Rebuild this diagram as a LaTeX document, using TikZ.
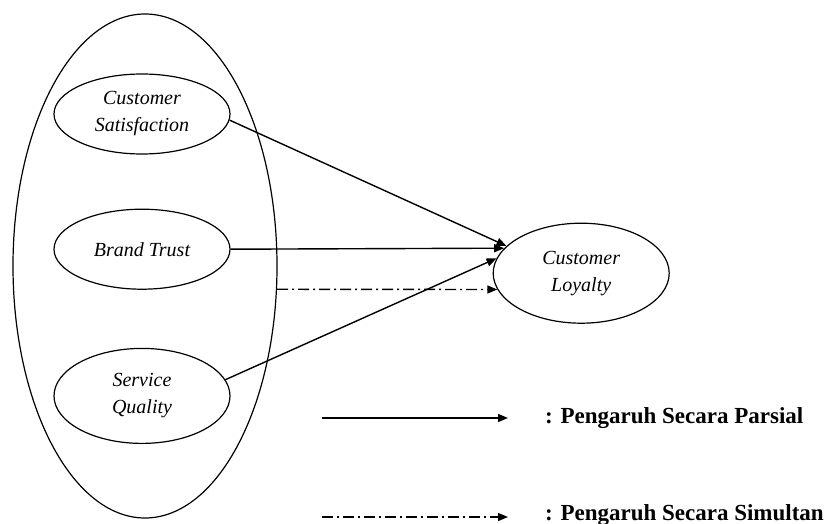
\documentclass[tikz,border=0pt]{standalone}
\usepackage{fontspec}
\setmainfont{Liberation Serif}
\usetikzlibrary{shapes.geometric, arrows.meta, positioning}
\tikzset{
    varbox/.style={
        ellipse,
        draw=black,
        line width=1.2pt,
        minimum width=176pt,
        minimum height=80pt,
        inner sep=0pt,
        align=center,
        font=\fontsize{20}{27}\selectfont\itshape
    },
    groupbox/.style={
        ellipse,
        draw=black,
        line width=1.2pt,
        minimum width=264pt,
        minimum height=504pt
    },
    partial/.style={
        draw=black,
        line width=1.4pt,
        -{Triangle[length=10pt,width=8pt]}
    },
    simultan/.style={
        draw=black,
        line width=1.4pt,
        dash pattern=on 11pt off 4pt on 2pt off 4pt,
        -{Triangle[length=10pt,width=8pt]}
    },
    legendtext/.style={
        anchor=west,
        inner sep=0pt,
        font=\fontsize{23}{26}\selectfont\bfseries
    }
}
\begin{document}
\begin{tikzpicture}[x=1pt, y=-1pt]
\useasboundingbox (0,0) rectangle (824,524);

% Independent variables
\node[groupbox] (outer) at (145,266) {};
\node[varbox] (cs) at (142,114) {Customer\\Satisfaction};
\node[varbox, below=54pt of cs] (bt) {Brand Trust};
\node[varbox, below=58pt of bt, minimum height=95pt] (sq) {Service\\Quality};

% Dependent variable
\node[varbox, right=262pt of bt, yshift=-24pt, minimum height=100pt] (loy) {Customer\\Loyalty};

\draw[partial] (cs.-4) -- (loy.160);
\draw[partial] (bt.east) -- (loy.162.7);
\draw[partial] (sq.11) -- (loy.170);
\draw[simultan] (outer.-10.4) -- (loy.191.6);

% Legend
\coordinate (partA) at (322,418);
\coordinate (partB) at (508,418);
\coordinate (simA) at (322,517);
\coordinate (simB) at (508,517);
\draw[partial] (partA) -- (partB);
\draw[simultan] (simA) -- (simB);
\node[legendtext, right=37pt of partB] (lgpart) {: Pengaruh Secara Parsial};
\node[legendtext, right=37pt of simB, yshift=2pt] (lgsim) {: Pengaruh Secara Simultan};

\end{tikzpicture}
\end{document}
